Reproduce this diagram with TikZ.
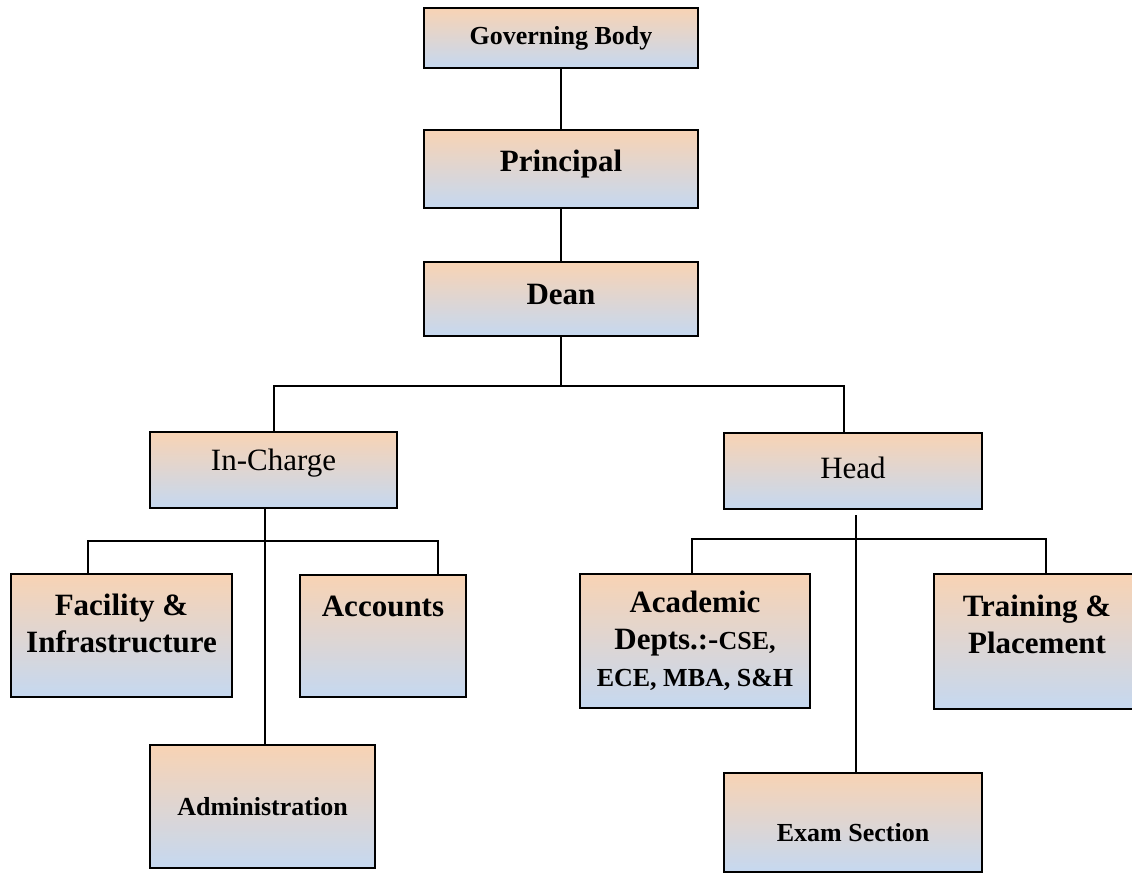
\documentclass[tikz,border=0pt]{standalone}
\usepackage{fontspec}
\setmainfont{Liberation Serif}
\usepackage{tikz}
\usepackage{xcolor}
\definecolor{peach}{RGB}{248,211,180}
\definecolor{paleblue}{RGB}{197,216,240}
\newcommand{\up}[2]{\raisebox{#1}[\height][\depth]{#2}}
\newcommand{\subfont}{\fontsize{26}{31}\selectfont}

\begin{document}
\begin{tikzpicture}%
  [x=1pt,y=-1pt]
  \tikzstyle{org box}=[rectangle,draw=black,line width=2pt,top color=peach,bottom color=paleblue,inner sep=0,align=center]
  \tikzstyle{big}=[font=\fontsize{31}{37}\selectfont\bfseries]
  \tikzstyle{small}=[font=\fontsize{26}{31}\selectfont\bfseries]
  \tikzstyle{plain}=[font=\fontsize{31}{37}\selectfont]
  \tikzstyle{link}=[line width=2pt]
  \useasboundingbox (0,0) rectangle (1132,874);
  % top of the chart
  \node(gov)[org box,small,minimum width=274,minimum height=60] at (561,38) {Governing Body};
  \node(prin)[org box,big,minimum width=274,minimum height=78] at (561,169) {\up{5pt}{Principal}};
  \node(dean)[org box,big,minimum width=274,minimum height=74] at (561,299) {\up{4pt}{Dean}};
  \node(ic)[org box,plain,minimum width=247,minimum height=76] at (273.5,470) {\up{7pt}{In-Charge}};
  \node(hd)[org box,plain,minimum width=258,minimum height=76] at (853,471) {\up{3pt}{Head}};
  % in-charge side
  \node(fac)[org box,big,minimum width=221,minimum height=123] at (121.5,635.5)
    {\up{12pt}{Facility \&}\\\up{12pt}{Infrastructure}};
  \node(acc)[org box,big,minimum width=166,minimum height=122] at (383,636) {\up{30pt}{Accounts}};
  \node(adm)[org box,small,minimum width=225,minimum height=123] at (262.5,806.5) {Administration};
  % head side
  \node(acad)[org box,big,minimum width=230,minimum height=134] at (695,641)
    {Academic\\Depts.:-{\subfont CSE,}\\{\subfont ECE, MBA, S\&H}};
  \node(trn)[org box,big,minimum width=206,minimum height=135] at (1037,641.5)
    {\up{17pt}{Training \&}\\\up{17pt}{Placement}};
  \node(exam)[org box,small,minimum width=258,minimum height=99] at (853,822.5) {\up{-10pt}{Exam Section}};
  % connectors
  \coordinate(dean fork) at (561,386);
  \coordinate(ic fork) at (265,541);
  \coordinate(hd fork) at (856,539);
  \draw[link] (gov) -- (prin);
  \draw[link] (prin) -- (dean);
  \draw[link] (dean.south) -- (dean fork);
  \draw[link] (ic.north) |- (dean fork) -| ([xshift=-9]hd.north);
  \draw[link] (ic.south -| ic fork) -- (adm.north -| ic fork);
  \draw[link] ([xshift=-34]fac.north) |- (ic fork) -| ([xshift=55]acc.north);
  \draw[link] (exam.north -| hd fork) -- (hd fork) -- ++(0,-24);
  \draw[link] ([xshift=-3]acad.north) |- (hd fork) -| ([xshift=9]trn.north);
\end{tikzpicture}
\end{document}
